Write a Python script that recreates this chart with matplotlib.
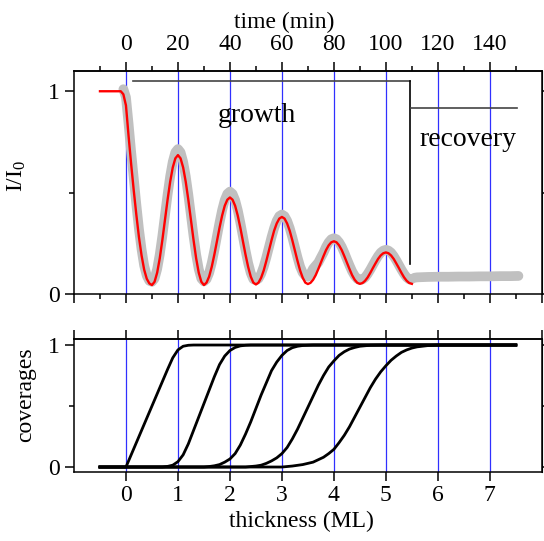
import numpy as np
import matplotlib as mpl
mpl.use('Agg')
mpl.rcParams['font.family'] = 'Liberation Serif'
mpl.rcParams['mathtext.fontset'] = 'custom'
mpl.rcParams['mathtext.rm'] = 'Liberation Serif'
mpl.rcParams['mathtext.it'] = 'Liberation Serif:italic'
import matplotlib.pyplot as plt
from matplotlib.ticker import MultipleLocator

# --- data (thickness in ML, 1 ML = 20 min) ---
# model intensity (red), sampled every 0.05 ML from -0.5 to 5.5
red_x = np.linspace(-0.5, 5.5, 121)
red_y = [1.0, 1.0, 1.0, 1.0, 1.0, 1.0, 1.0, 1.0, 1.0, 0.985,
         0.93, 0.78, 0.64, 0.51, 0.39, 0.28, 0.19, 0.12, 0.075, 0.052,
         0.044, 0.060, 0.105, 0.176, 0.266, 0.365, 0.464, 0.553, 0.624, 0.669,
         0.685, 0.669, 0.624, 0.553, 0.464, 0.365, 0.266, 0.176, 0.105, 0.060,
         0.044, 0.056, 0.086, 0.134, 0.194, 0.260, 0.327, 0.387, 0.435, 0.465,
         0.476, 0.465, 0.435, 0.387, 0.327, 0.260, 0.194, 0.134, 0.086, 0.056,
         0.047, 0.056, 0.080, 0.116, 0.163, 0.214, 0.265, 0.312, 0.348, 0.372,
         0.380, 0.372, 0.348, 0.312, 0.265, 0.214, 0.163, 0.116, 0.080, 0.056,
         0.049, 0.055, 0.070, 0.093, 0.123, 0.155, 0.187, 0.217, 0.240, 0.255,
         0.260, 0.255, 0.240, 0.217, 0.187, 0.155, 0.123, 0.093, 0.070, 0.055,
         0.050, 0.054, 0.065, 0.082, 0.104, 0.128, 0.151, 0.173, 0.190, 0.201,
         0.205, 0.201, 0.190, 0.173, 0.151, 0.128, 0.104, 0.082, 0.065, 0.054,
         0.050]

# measured intensity (grey), growth part every 0.05 ML from -0.05 to 5.5
data_x = np.linspace(-0.05, 5.5, 112)
data_y = [1.01,
          0.97, 0.84, 0.70, 0.57, 0.44, 0.32, 0.22, 0.14, 0.09, 0.065,
          0.060, 0.076, 0.123, 0.195, 0.286, 0.388, 0.489, 0.580, 0.652, 0.699,
          0.715, 0.699, 0.652, 0.580, 0.489, 0.388, 0.286, 0.195, 0.123, 0.076,
          0.062, 0.073, 0.104, 0.153, 0.215, 0.284, 0.352, 0.414, 0.463, 0.494,
          0.505, 0.494, 0.463, 0.414, 0.352, 0.284, 0.215, 0.153, 0.104, 0.073,
          0.068, 0.076, 0.099, 0.135, 0.180, 0.230, 0.280, 0.325, 0.361, 0.384,
          0.392, 0.384, 0.361, 0.325, 0.280, 0.230, 0.180, 0.135, 0.105, 0.090,
          0.085, 0.100, 0.125, 0.140, 0.155, 0.180, 0.204, 0.233, 0.255, 0.270,
          0.275, 0.270, 0.255, 0.233, 0.204, 0.172, 0.141, 0.112, 0.090, 0.075,
          0.070, 0.072, 0.082, 0.099, 0.120, 0.143, 0.166, 0.187, 0.204, 0.214,
          0.218, 0.214, 0.204, 0.187, 0.166, 0.143, 0.120, 0.099, 0.082, 0.072,
          0.075]
# recovery part
rec_x = [5.55, 5.6, 5.8, 6.0, 6.2, 6.4, 6.6, 6.8, 7.0, 7.2, 7.4, 7.55]
rec_y = [0.080, 0.082, 0.084, 0.085, 0.085, 0.086, 0.086, 0.087, 0.087, 0.088, 0.088, 0.089]

# layer coverages
cov1_x = [-0.5, 0.0, 0.1, 0.2, 0.3, 0.4, 0.5, 0.6, 0.7, 0.8, 0.9, 1.0, 1.1, 1.2, 1.3, 7.5]
cov1_y = [0.0, 0.0, 0.1, 0.2, 0.3, 0.4, 0.5, 0.6, 0.7, 0.8, 0.895, 0.96, 0.99, 0.998, 1.0, 1.0]
cov2_x = [-0.5, 0.7, 0.8, 0.9, 1.0, 1.1, 1.2, 1.3, 1.4, 1.5, 1.6, 1.7, 1.8, 1.9, 2.0, 2.1, 2.2, 2.3, 2.4, 7.5]
cov2_y = [0.0, 0.0, 0.005, 0.015, 0.044, 0.10, 0.19, 0.30, 0.41, 0.52, 0.63, 0.74, 0.84, 0.91, 0.955, 0.98, 0.993, 0.998, 1.0, 1.0]
cov3_x = [-0.5, 1.5, 1.6, 1.7, 1.8, 1.9, 2.0, 2.1, 2.2, 2.3, 2.4, 2.5, 2.6, 2.7, 2.8, 2.9, 3.0, 3.1, 3.2, 3.3, 3.4, 3.6, 7.5]
cov3_y = [0.0, 0.0, 0.004, 0.01, 0.02, 0.04, 0.066, 0.11, 0.18, 0.27, 0.37, 0.48, 0.59, 0.69, 0.79, 0.86, 0.915, 0.955, 0.978, 0.99, 0.996, 1.0, 1.0]
cov4_x = [-0.5, 2.3, 2.5, 2.6, 2.7, 2.8, 2.9, 3.0, 3.1, 3.2, 3.3, 3.4, 3.5, 3.6, 3.7, 3.8, 3.9, 4.0, 4.1, 4.2, 4.3, 4.4, 4.5, 4.7, 4.9, 7.5]
cov4_y = [0.0, 0.0, 0.008, 0.015, 0.03, 0.05, 0.075, 0.11, 0.16, 0.23, 0.31, 0.40, 0.49, 0.58, 0.67, 0.75, 0.82, 0.87, 0.915, 0.945, 0.967, 0.98, 0.99, 0.998, 1.0, 1.0]
cov5_x = [-0.5, 3.0, 3.2, 3.4, 3.5, 3.6, 3.7, 3.8, 3.9, 4.0, 4.1, 4.2, 4.3, 4.4, 4.5, 4.6, 4.7, 4.8, 4.9, 5.0, 5.1, 5.2, 5.3, 5.4, 5.5, 5.6, 5.8, 6.0, 7.5]
cov5_y = [0.0, 0.0, 0.008, 0.02, 0.03, 0.04, 0.06, 0.08, 0.11, 0.145, 0.20, 0.26, 0.33, 0.41, 0.49, 0.57, 0.65, 0.72, 0.78, 0.83, 0.875, 0.91, 0.94, 0.96, 0.975, 0.985, 0.995, 1.0, 1.0]
coverages = [(cov1_x, cov1_y), (cov2_x, cov2_y), (cov3_x, cov3_y), (cov4_x, cov4_y), (cov5_x, cov5_y)]

monolayers = [0, 1, 2, 3, 4, 5, 6, 7]
min_per_ml = 20.0
growth_end = 5.47

FS = 17
TL_MAJ, TL_MIN, TW = 6.5, 3.6, 1.1

fig = plt.figure(figsize=(5.44, 5.41), dpi=100)
ax1 = fig.add_axes([0.136, 0.4566, 0.860, 0.4122])
ax2 = fig.add_axes([0.136, 0.1275, 0.860, 0.2458])

for ax in (ax1, ax2):
    for m in monolayers:
        ax.axvline(m, color='#3030ff', lw=0.9, zorder=0)
    ax.set_xlim(-1, 8)
    for s in ax.spines.values():
        s.set_linewidth(TW)

# --- top panel ---
ax1.plot(data_x, data_y, color='#c0c0c0', lw=7, solid_capstyle='round', zorder=2)
ax1.plot(rec_x, rec_y, color='#c0c0c0', lw=7, solid_capstyle='round', zorder=2)
ax1.plot(red_x, red_y, color='red', lw=1.7, zorder=3)

ax1.plot([0.14, growth_end], [1.05, 1.05], color='#444444', lw=1.2)
ax1.plot([growth_end, growth_end], [1.05, 0.148], color='black', lw=1.2)
ax1.plot([5.49, 7.53], [0.918, 0.918], color='#444444', lw=1.2)
ax1.text(2.51, 0.847, 'growth', fontsize=20, ha='center', va='baseline')
ax1.text(6.58, 0.729, 'recovery', fontsize=20, ha='center', va='baseline')

ax1.set_ylim(0, 1.1)
ax1.set_yticks([0, 1])
ax1.yaxis.set_minor_locator(MultipleLocator(0.5))
ax1.xaxis.set_major_locator(MultipleLocator(1))
ax1.xaxis.set_minor_locator(MultipleLocator(0.5))
ax1.tick_params(which='both', direction='out', width=TW, labelsize=FS,
                top=False, right=False, labelbottom=False, pad=4)
ax1.tick_params(which='major', length=TL_MAJ)
ax1.tick_params(which='minor', length=TL_MIN)
ax1.set_ylabel('I/I$_{\\mathrm{0}}$', fontsize=FS)
ax1.yaxis.set_label_coords(-0.098, 0.53)

tax = ax1.secondary_xaxis('top', functions=(lambda x: x * min_per_ml, lambda t: t / min_per_ml))
tax.set_xticks(np.arange(0, 141, 20))
tax.set_xticks(np.arange(-10, 151, 20), minor=True)
tax.tick_params(which='both', direction='out', width=TW, labelsize=FS, pad=5)
tax.tick_params(which='major', length=TL_MAJ)
tax.tick_params(which='minor', length=TL_MIN)
tax.set_xlabel('time (min)', fontsize=FS, labelpad=4)
tax.xaxis.label.set_x(0.449)
tax.spines['top'].set_linewidth(TW)

rax1 = ax1.secondary_yaxis('right')
rax1.set_yticks([0, 0.5, 1])
rax1.tick_params(direction='out', length=2.5, width=TW, labelright=False)

# --- bottom panel ---
for cx, cy in coverages:
    ax2.plot(cx, cy, color='black', lw=2.0, zorder=3)

ax2.set_ylim(-0.041, 1.049)
ax2.set_yticks([0, 1])
ax2.yaxis.set_minor_locator(MultipleLocator(0.5))
ax2.set_xticks(monolayers)
ax2.tick_params(which='both', direction='out', width=TW, labelsize=FS,
                top=False, right=False, pad=4)
ax2.tick_params(axis='x', pad=3)
ax2.tick_params(which='major', length=TL_MAJ)
ax2.tick_params(which='minor', length=TL_MIN)
ax2.set_xlabel('thickness (ML)', fontsize=FS, labelpad=3)
ax2.xaxis.label.set_x(0.487)
ax2.set_ylabel('coverages', fontsize=FS)
ax2.yaxis.set_label_coords(-0.081, 0.58)

bax = ax2.secondary_xaxis('top')
bax.set_xticks(np.arange(-1, 9, 1))
bax.tick_params(direction='out', length=TL_MAJ, width=TW, labeltop=False)
bax.spines['top'].set_linewidth(TW)

rax2 = ax2.secondary_yaxis('right')
rax2.set_yticks([0, 0.5, 1])
rax2.tick_params(direction='out', length=2.5, width=TW, labelright=False)

fig.savefig('out.png', dpi=100)
